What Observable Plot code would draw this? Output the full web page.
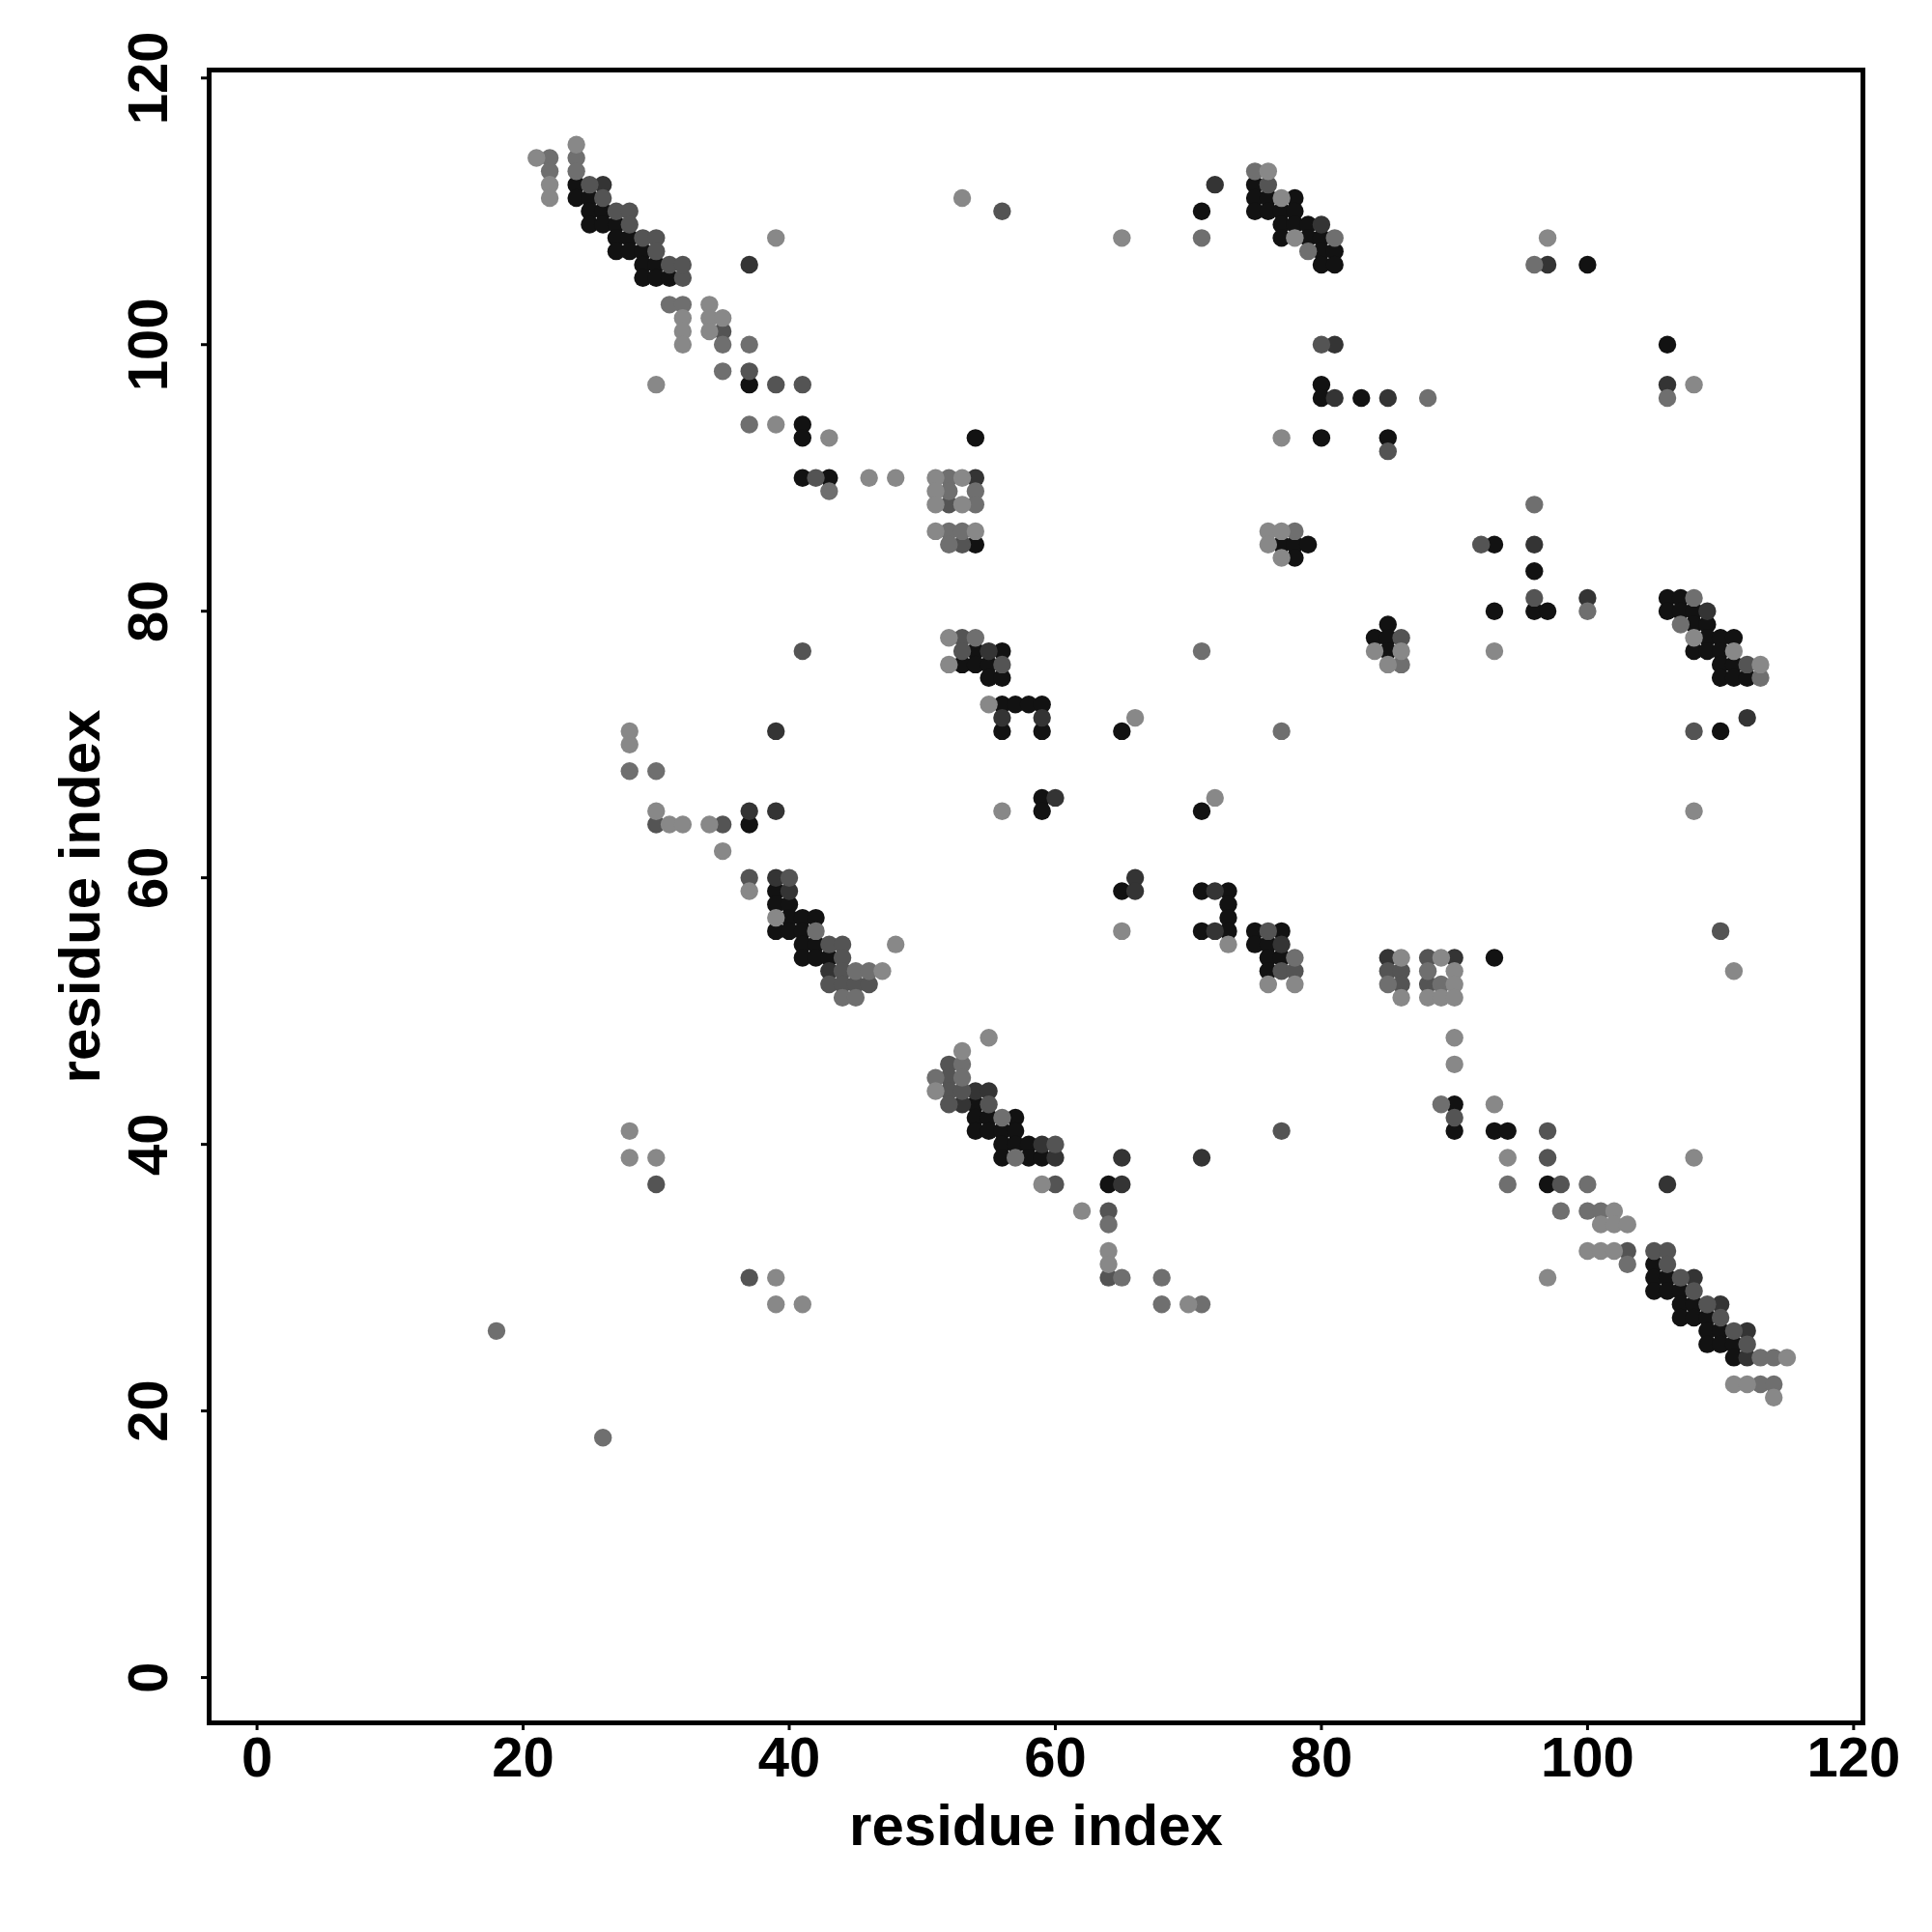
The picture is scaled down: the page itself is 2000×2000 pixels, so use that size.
<!DOCTYPE html>
<html><head><meta charset="utf-8">
<script src="https://cdn.jsdelivr.net/npm/d3@7"></script>
<script src="https://cdn.jsdelivr.net/npm/@observablehq/plot@0.6"></script>
<style>html,body{margin:0;padding:0;background:#fff} #chart svg{display:block}</style>
</head><body><div id="chart"></div>
<script>
const xTicks = [0, 20, 40, 60, 80, 100, 120];
const yTicks = [0, 20, 40, 60, 80, 100, 120];
const axisTitleX = "residue index";
const axisTitleY = "residue index";
const shadeLevels = [1, 2, 3, 4, 5];
const shadeColors = ["#888888", "#6f6f6f", "#545454", "#343434", "#121212"];

// contacts [residue i, residue j] grouped by shade level (5 = darkest)
const contactsLevel5 = [
[24,112],[24,111],[25,111],[25,110],[26,110],[25,109],[26,109],[27,109],[27,108],[28,108],[27,107],[28,107],[29,107],[29,106],[30,106],[29,105],[30,105],[31,105],[37,97],[41,94],[41,93],[41,90],[43,90],
[71,110],[75,112],[75,111],[76,111],[78,111],[75,110],[76,110],[77,110],[78,110],[77,109],[78,109],[79,109],[77,108],[79,108],[80,108],[80,107],[81,107],[80,106],[81,106],[80,97],[80,96],[83,96],[80,93],[54,93],[54,85],[77,85],[78,85],[79,85],[78,84],
[100,106],[106,100],[85,93],[93,85],[96,83],
[37,64],[39,59],[39,58],[40,58],[40,57],[41,57],[42,57],[39,56],[40,56],[41,56],[41,55],[42,55],[41,54],[42,54],[43,54],
[54,77],[56,77],[53,76],[54,76],[55,76],[55,75],[56,75],[56,73],[57,73],[58,73],[59,73],[56,71],[59,71],[65,71],[59,66],[59,65],[71,65],[65,59],[71,59],[73,59],[73,58],[73,57],[71,56],[73,56],[75,56],[77,56],[75,55],[76,55],[76,54],[77,54],[76,53],
[96,80],[97,80],[93,80],[85,79],[84,78],[85,78],[85,77],[106,81],[107,81],[106,80],[107,80],[108,80],[108,79],[109,79],[109,78],[110,78],[111,78],[108,77],[109,77],[110,77],[110,76],[111,76],[110,75],[111,75],[112,75],[110,71],[93,54],
[54,43],[54,42],[55,42],[57,42],[54,41],[55,41],[56,41],[57,41],[56,40],[57,40],[58,40],[56,39],[58,39],[59,39],[64,37],
[90,43],[90,41],[93,41],[94,41],[97,37],[105,31],[105,30],[106,30],[105,29],[106,29],[107,29],[107,28],[108,28],[107,27],[108,27],[109,27],[109,26],[110,26],[109,25],[110,25],[111,25],[111,24]
];
const contactsLevel4 = [
[26,112],[37,106],[72,112],[80,109],[81,100],[81,96],[54,90],[97,106],[106,97],[85,96],[96,85],[39,71],[37,65],[39,65],[39,60],[40,59],[43,53],[55,77],[56,72],[59,72],[60,66],[66,60],[66,59],[72,59],[72,56],[77,55],[100,81],[109,80],[112,72],[85,54],[90,54],[54,44],[55,44],[53,43],[59,40],[60,39],[65,37],[65,39],[71,39],[106,37],[108,30],[110,28],[112,26],[112,24]
];
const contactsLevel3 = [
[25,112],[26,111],[27,110],[28,110],[28,109],[29,108],[30,108],[30,107],[32,105],[35,101],[37,98],[39,97],[41,97],[42,90],[31,106],[32,106],
[56,110],[76,112],[80,100],[52,88],[53,85],[85,92],[92,85],[41,77],[30,64],[35,64],[37,60],[40,60],[43,55],[44,55],[44,54],[44,53],[43,52],[44,52],[45,52],[46,52],
[53,78],[53,77],[56,76],[76,56],[77,53],[78,53],[96,81],[86,78],[112,76],[108,71],[110,56],[85,53],[86,53],[88,54],[86,52],[88,52],
[30,37],[37,30],[52,46],[52,45],[52,44],[53,44],[52,43],[55,43],[60,40],[60,37],[77,41],[64,35],[64,30],
[90,42],[97,41],[97,39],[98,37],[103,32],[105,32],[106,32],[106,31],[107,30],[108,29],[109,28],[110,27],[111,26],[112,25]
];
const contactsLevel2 = [
[22,114],[22,113],[24,114],[24,113],[31,103],[32,103],[35,100],[37,100],[35,98],[37,94],[43,89],
[71,108],[75,113],[81,108],[79,107],[52,90],[52,89],[54,89],[54,88],[52,86],[53,86],[52,85],[78,86],
[96,106],[106,96],[88,96],[96,88],
[28,68],[30,68],[42,56],[45,53],[46,53],[44,51],[45,51],
[54,78],[71,77],[77,71],[78,54],
[100,80],[86,76],[108,81],[107,79],[113,75],[88,53],[85,52],[89,52],
[18,26],[26,18],
[53,46],[51,45],[53,45],[56,42],[57,39],[64,34],[65,30],[68,30],[68,28],[71,28],
[89,43],[94,37],[100,37],[98,35],[100,35],[101,35],[103,31],[113,24],[114,24],[113,22],[114,22]
];
const contactsLevel1 = [
[21,114],[22,112],[22,111],[24,115],[39,108],[34,103],[34,102],[35,102],[34,101],[32,102],[32,101],[32,100],[30,97],[39,94],[43,93],[46,90],[48,90],
[53,111],[65,108],[76,113],[77,111],[78,108],[77,93],[51,90],[53,90],[51,89],[51,88],[53,88],[51,86],[54,86],[76,86],[77,86],[76,85],[77,84],
[97,108],[108,97],
[28,71],[28,70],[30,65],[31,64],[32,64],[34,64],[35,62],[37,59],[39,57],[48,55],[47,53],
[52,78],[52,76],[55,73],[66,72],[56,65],[72,66],[65,56],[73,55],[76,52],[78,52],
[93,77],[84,77],[86,77],[85,76],[108,78],[111,77],[113,76],[108,65],[111,53],[86,54],[89,54],[90,53],[90,52],[86,51],[88,51],[89,51],[90,51],
[28,41],[28,39],[30,39],[39,30],[39,28],[41,28],
[55,48],[53,47],[51,44],[59,37],[62,35],[64,32],[64,31],[70,28],
[90,48],[90,46],[93,43],[94,39],[108,39],[102,35],[101,34],[102,34],[103,34],[100,32],[101,32],[102,32],[97,30],[115,24],[111,22],[112,22],[114,21]
];

const groups = [[5, contactsLevel5], [4, contactsLevel4], [3, contactsLevel3], [2, contactsLevel2], [1, contactsLevel1]];
const contacts = [];
for (const [lvl, arr] of groups) for (const [i, j] of arr) contacts.push({i, j, lvl});

const font = "'Liberation Sans', Arial, Helvetica, sans-serif";
const chart = Plot.plot({
  width: 2000, height: 2000,
  marginLeft: 216, marginRight: 72, marginTop: 72, marginBottom: 217,
  x: {domain: [-3.6, 120.7]},
  y: {domain: [-3.4, 120.6]},
  color: {type: "ordinal", domain: shadeLevels, range: shadeColors},
  style: {fontFamily: font, background: "white", color: "black"},
  marks: [
    Plot.dot(contacts, {x: "i", y: "j", r: 9.2, fill: "lvl", stroke: "none"}),
    Plot.frame({stroke: "black", strokeWidth: 5}),
    Plot.axisX(xTicks, {tickSize: 8, strokeWidth: 3, tickFormat: () => "", label: null}),
    Plot.axisY(yTicks, {tickSize: 8, strokeWidth: 3, tickFormat: () => "", label: null}),
    Plot.text(xTicks, {x: d => d, text: d => String(d), frameAnchor: "bottom", dy: 14, lineAnchor: "top", textAnchor: "middle", fontSize: 58, fontWeight: "bold", fill: "black"}),
    Plot.text(yTicks, {y: d => d, text: d => String(d), frameAnchor: "left", dx: -44, rotate: -90, lineAnchor: "bottom", textAnchor: "middle", fontSize: 58, fontWeight: "bold", fill: "black"}),
    Plot.text([axisTitleX], {text: d => d, frameAnchor: "bottom", dy: 126, lineAnchor: "bottom", textAnchor: "middle", fontSize: 60, fontWeight: "bold", fill: "black"}),
    Plot.text([axisTitleY], {text: d => d, frameAnchor: "left", dx: -156, rotate: -90, lineAnchor: "top", textAnchor: "middle", fontSize: 60, fontWeight: "bold", fill: "black"})
  ]
});
document.getElementById("chart").appendChild(chart);
</script>
</body></html>
